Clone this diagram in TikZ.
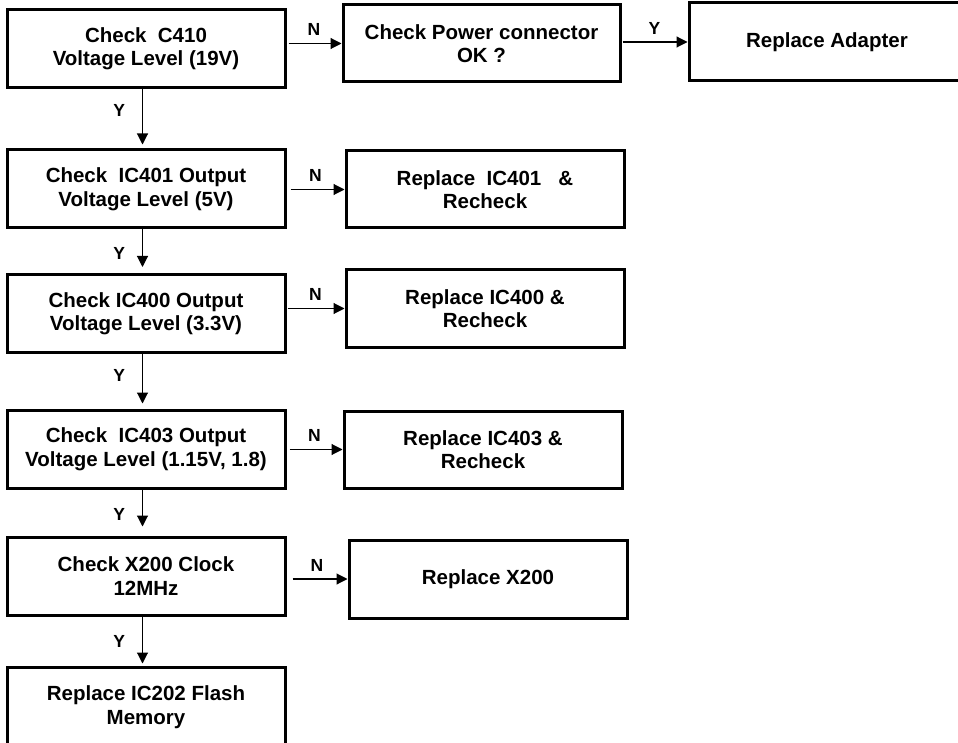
\documentclass[tikz,border=0pt]{standalone}
\usepackage{fontspec}
\setmainfont{Liberation Sans}
\usetikzlibrary{arrows.meta}
\begin{document}
\begin{tikzpicture}[x=1pt,y=-1pt,
  box/.style={draw=black,line width=3pt,rectangle,inner sep=0pt,
    minimum width=278pt,minimum height=78pt,align=center,
    font=\fontsize{20.5}{23.5}\selectfont\bfseries},
  arr/.style={draw=black,line width=1.1pt,-{Triangle[length=11pt,width=11pt]}},
  lbl/.style={font=\fontsize{17.5}{19}\selectfont\bfseries,inner sep=3pt}]
\useasboundingbox (0,0) rectangle (958,743);
\clip (0,0) rectangle (958,743);
\fill[white] (0,0) rectangle (958,743);
% left column
\node[box] (b1) at (146,48.5) {Check\ \ C410\\Voltage Level (19V)};
\node[box] (b2) at (146,189) {Check\ \ IC401 Output\\Voltage Level (5V)};
\node[box] (b3) at (146,313.5) {Check IC400 Output\\Voltage Level (3.3V)};
\node[box] (b4) at (146,449) {Check\ \ IC403 Output\\Voltage Level (1.15V, 1.8)};
\node[box] (b5) at (146,576) {Check X200 Clock\\12MHz};
\node[box,minimum height=80pt] (b6) at (146,707) {Replace IC202 Flash\\Memory};
% right column
\node[box,minimum width=277pt,minimum height=77pt] (p) at (481.5,43.5) {Check Power connector\\OK ?};
\node[box,minimum width=276pt] (ad) at (827,42) {Replace Adapter};
\node[box,minimum height=77pt] (r2) at (485,189.5) {Replace\ \ IC401\ \ \ \&\\Recheck};
\node[box,minimum height=77pt] (r3) at (485,308.5) {Replace IC400\ \&\\Recheck};
\node[box,minimum height=77pt] (r4) at (483,449.5) {Replace IC403\ \&\\Recheck};
\node[box] (r5) at (488,579) {Replace X200};
% horizontal arrows
\draw[arr,shorten <=2pt] (b1.east |- p.west) -- node[lbl,above=4pt]{N} (p.west);
\draw[arr,shorten <=1pt] (p.east |- ad.west) -- node[lbl,above=4pt]{Y} (ad.west);
\draw[arr,shorten <=4pt] (b2.east |- r2.west) -- node[lbl,above=4pt]{N} (r2.west);
\draw[arr,shorten <=1pt] (b3.east |- r3.west) -- node[lbl,above=4pt]{N} (r3.west);
\draw[arr,shorten <=3pt] (b4.east |- r4.west) -- node[lbl,above=4pt]{N} (r4.west);
\draw[arr,shorten <=6pt] (b5.east |- r5.west) -- node[lbl,above=4pt]{N} (r5.west);
% vertical arrows
\draw[arr,shorten >=4pt] ([xshift=-3.5pt]b1.south) -- node[lbl,left=14pt,pos=0.36]{Y} ([xshift=-3.5pt]b2.north);
\draw[arr,shorten >=6pt] ([xshift=-3.5pt]b2.south) -- node[lbl,left=14pt,pos=0.55]{Y} ([xshift=-3.5pt]b3.north);
\draw[arr,shorten >=5pt] ([xshift=-3.5pt]b3.south) -- node[lbl,left=14pt,pos=0.4]{Y} ([xshift=-3.5pt]b4.north);
\draw[arr,shorten >=9pt] ([xshift=-3.5pt]b4.south) -- node[lbl,left=14pt,pos=0.55]{Y} ([xshift=-3.5pt]b5.north);
\draw[arr,shorten >=2pt] ([xshift=-3.5pt]b5.south) -- node[lbl,left=14pt,pos=0.5]{Y} ([xshift=-3.5pt]b6.north);
\end{tikzpicture}
\end{document}
